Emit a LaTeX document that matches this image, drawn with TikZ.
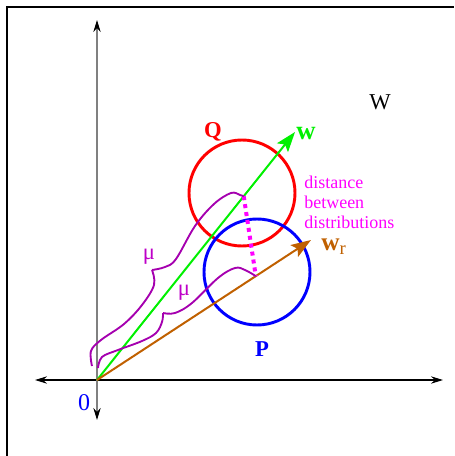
\documentclass[tikz,border=0pt]{standalone}
\usepackage{fontspec}
\setmainfont{Liberation Serif}
\usetikzlibrary{arrows.meta,calc}

\definecolor{wgreen}{RGB}{0,240,0}
\definecolor{wrbrown}{RGB}{192,96,0}
\definecolor{mupurple}{RGB}{165,0,175}
\definecolor{mutext}{RGB}{190,0,200}
\definecolor{distpink}{RGB}{255,0,255}

\tikzset{
  axis/.style={line width=0.9pt,{Stealth[black,length=9pt,width=5.5pt]}-{Stealth[black,length=9pt,width=5.5pt]}},
  vec/.style={line width=1.5pt,-{Stealth[length=15pt,width=10.5pt,inset=3pt]}},
  distr/.style={line width=2.2pt},
  mucurve/.style={mupurple,line width=1.4pt,smooth,tension=0.6},
  lab/.style={font=\fontsize{17}{20}\selectfont,inner sep=0pt},
  labbf/.style={font=\fontsize{17}{20}\selectfont\bfseries,inner sep=0pt},
}

\begin{document}
\begin{tikzpicture}[x=0.75pt,y=-0.75pt]
\useasboundingbox (0,0) rectangle (454,456);
   % frame
   \draw[line width=0.9pt] (7,456) -- (7,7) -- (454,7);

   \coordinate (O)  at (97,380);
   \coordinate (xl) at (35,380);
   \coordinate (xr) at (443,380);
   \coordinate (yb) at (97,420);
   \coordinate (yt) at (97,20);

   \draw[axis] (xl) -- (xr);
   \draw[axis,gray] (yb) -- (yt);

   \node[lab,blue,font=\fontsize{18}{20}\selectfont] at (84,403) (zero) {0};
   \node[lab] at (380,102) (W) {W};

   % distributions
   \coordinate (Qc) at (242,193);
   \coordinate (Pc) at (257,272);
   \draw[distr,red]  (Qc) circle (53);
   \draw[distr,blue] (Pc) circle (53);
   \node[labbf,red]  at (213,132) (Q) {Q};
   \node[labbf,blue] at (262,349) (P) {P};

   % weight vectors
   \coordinate (w)  at (295,132);
   \coordinate (wr) at (311,240);
   \draw[vec,wgreen]  (O) -- (w);
   \draw[vec,wrbrown] (O) -- (wr);
   \node[labbf,wgreen,font=\fontsize{20}{20}\selectfont\bfseries] at (306,134) (wlab) {w};
   \node[labbf,wrbrown,font=\fontsize{19}{20}\selectfont\bfseries,anchor=base west] at (321,250) (wrlab)
      {w\raisebox{-0.35ex}{\fontsize{14}{14}\mdseries\selectfont r}};

   \coordinate (dq) at ($(O)!0.741!(w)$);
   \coordinate (dp) at ($(O)!0.742!(wr)$);
   \draw[distpink,line width=3pt,dash pattern=on 3pt off 3pt] (dq) -- (dp);
   \node[distpink,align=left,anchor=north west,inner sep=0pt,
         font=\fontsize{13.5}{15}\selectfont] at (304,176) (dist)
      {distance\\between\\distributions};

   % mu curves
   \coordinate (tip1) at (152,270);
   \coordinate (tip2) at (163,313);
   \draw[mucurve] plot coordinates {(92,366) (91,351) (101,340) (124,324) (142,305) (154,285) (tip1)};
   \draw[mucurve] plot coordinates {(tip1) (165,267) (176,259) (195,226) (214,204) (231,193) (240,195) (dq)};
   \draw[mucurve] plot coordinates {(98,368) (102,357) (118,350) (142,341) (156,333) (162,322) (tip2)};
   \draw[mucurve] plot coordinates {(tip2) (175,313) (192,303) (218,278) (235,268) (245,270) (dp)};
   \node[lab,mutext] at (149,257) (mulab1) {μ};
   \node[lab,mutext] at (184,293) (mulab2) {μ};

\end{tikzpicture}
\end{document}
